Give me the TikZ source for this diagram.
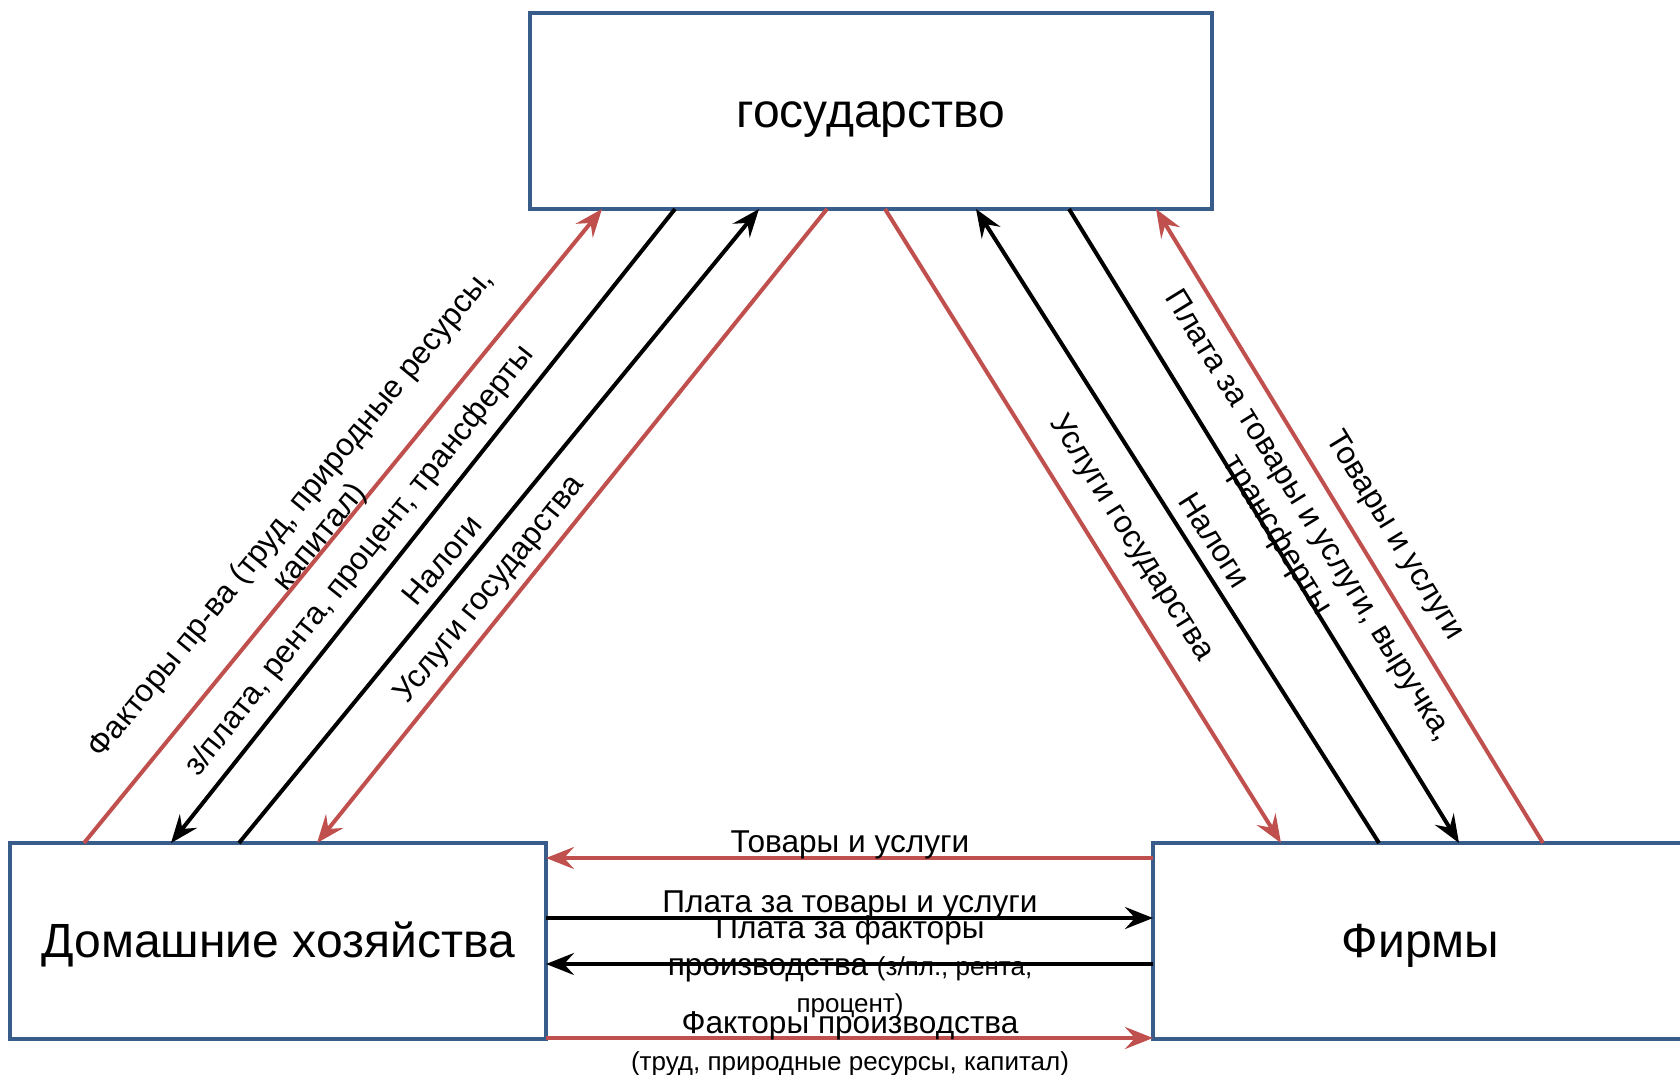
\documentclass[tikz,border=0pt]{standalone}
\usepackage{fontspec}
\setmainfont{Liberation Sans}
\usetikzlibrary{arrows.meta,calc}
\definecolor{boxblue}{RGB}{56,93,138}
\definecolor{flowred}{RGB}{192,80,77}
\newcommand\smalllbl{\fontsize{13}{17}\selectfont}

\begin{document}
\begin{tikzpicture}[x=0.5pt, y=-0.5pt,
    agent/.style={rectangle, draw=boxblue, line width=2pt, fill=white, inner sep=0pt, outer sep=0pt, minimum height=98pt, text height=21.7pt, text depth=5.1pt, font=\fontsize{24}{28}\selectfont},
    flow/.style={line width=2pt, -{Stealth[length=14pt, width=11pt, inset=5pt]}},
    redflow/.style={flow, draw=flowred},
    blackflow/.style={flow, draw=black},
    lbl/.style={font=\fontsize{15.8}{18.5}\selectfont, align=center, inner sep=0pt}
]
\useasboundingbox (0,0) rectangle (1680,1075);

% Agents
\node[agent, minimum width=341pt] (st) at (871,111) {государство};
\node[agent, minimum width=268pt] (hh) at (278,941) {Домашние хозяйства};
\node[agent, minimum width=267.5pt] (fm) at (1420.5,941) {Фирмы};

% Households <-> state
\draw[redflow] ($(hh.north west)+(74,0)$) -- ($(st.south west)+(72,0)$);
\draw[blackflow] ($(st.south west)+(145,0)$) -- ($(hh.north west)+(161,0)$);
\draw[blackflow] ($(hh.north west)+(229,0)$) -- ($(st.south west)+(229,0)$);
\draw[redflow] ($(st.south west)+(297,0)$) -- ($(hh.north west)+(307,0)$);
\node[lbl, rotate=50.75] (lfac) at (306,526) {Факторы пр-ва (труд, природные ресурсы,\\капитал)};
\node[lbl, rotate=51.5] (lpay) at (360,561) {з/плата, рента, процент, трансферты};
\node[lbl, rotate=50.6] (ltaxh) at (442,560) {Налоги};
\node[lbl, rotate=51.2] (lsrvh) at (490,590) {Услуги государства};

% Firms <-> state
\draw[redflow] ($(st.south west)+(355,0)$) -- ($(fm.north west)+(128,0)$);
\draw[blackflow] ($(fm.north west)+(226,0)$) -- ($(st.south west)+(446,0)$);
\draw[blackflow] ($(st.south west)+(539,0)$) -- ($(fm.north west)+(306,0)$);
\draw[redflow] ($(fm.north west)+(390,0)$) -- ($(st.south west)+(626,0)$);
\node[lbl, rotate=-58] (lsrvf) at (1131,538) {Услуги государства};
\node[lbl, rotate=-57.6] (ltaxf) at (1215,540) {Налоги};
\node[lbl, rotate=-58.4] (lrev) at (1292,526) {Плата за товары и услуги, выручка,\\трансферты};
\node[lbl, rotate=-58.6] (lgds) at (1394,536) {Товары и услуги};

% Households <-> firms
\draw[redflow] ($(fm.north west)+(0,15)$) -- ($(hh.north east)+(0,15)$);
\draw[blackflow] ($(hh.north east)+(0,75)$) -- ($(fm.north west)+(0,75)$);
\draw[blackflow] ($(fm.north west)+(0,121)$) -- ($(hh.north east)+(0,121)$);
\draw[redflow] ($(hh.north east)+(0,195)$) -- ($(fm.north west)+(0,195)$);
\node[lbl] (lgdsm) at (850,845) {Товары и услуги};
\node[lbl] (lpaym) at (850,905) {Плата за товары и услуги};
\node[lbl] (lfpay) at (850,967) {Плата за факторы\\производства {\smalllbl (з/пл., рента,}\\{\smalllbl процент)}};
\node[lbl] (lfacm) at (850,1044) {Факторы производства\\{\smalllbl (труд, природные ресурсы, капитал)}};

\end{tikzpicture}
\end{document}
